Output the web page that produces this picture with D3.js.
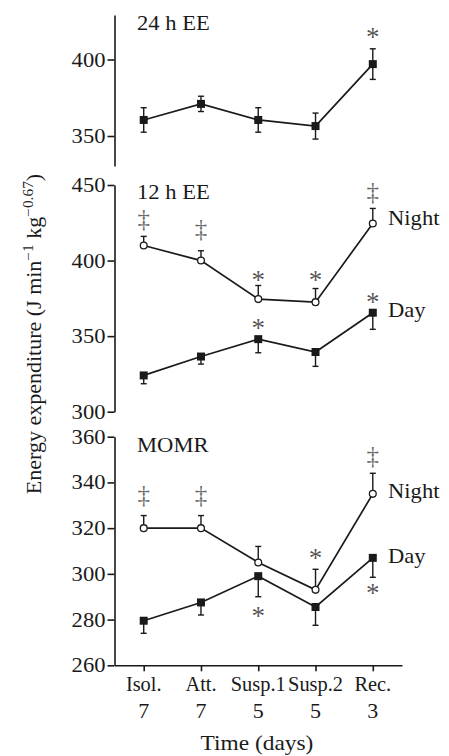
<!DOCTYPE html>
<html><head><meta charset="utf-8">
<script src="https://cdn.jsdelivr.net/npm/d3@7"></script>
<style>
body{margin:0;background:#fff}
text{font-family:"Liberation Serif","Times New Roman",serif;fill:#1a1a1a}
</style>
</head><body>
<svg id="c" width="449" height="756"></svg>
<script>
// ---------- data ----------
const categories = ["Isol.", "Att.", "Susp.1", "Susp.2", "Rec."];
const durations = ["7", "7", "5", "5", "3"];

const ee24Mean = [360.5, 371, 360.5, 356.5, 397];
const ee24Err  = [8, 5, 8, 8.5, 10];

const ee12NightMean = [410, 400, 374.5, 372.5, 424.5];
const ee12NightErr  = [6, 6.5, 9, 9, 10];
const ee12DayMean   = [324, 336.5, 348, 339.5, 365.5];
const ee12DayErr    = [5.5, 5, 9, 9.5, 11];

const momrNightMean = [320, 320, 305, 293, 335];
const momrNightErr  = [5.5, 5.5, 7, 9, 9];
const momrDayMean   = [279.5, 287.5, 299, 285.5, 307];
const momrDayErr    = [5.5, 5.5, 9, 8, 8.5];

const ticks24   = [350, 400];
const ticks12   = [300, 350, 400, 450];
const ticksMomr = [260, 280, 300, 320, 340, 360];

// significance marks: [category index, symbol, value at symbol centre]
const marks24        = [[4, "*", 417.3]];
const marks12Night   = [[0, "‡", 426.5], [1, "‡", 420], [2, "*", 389.8], [3, "*", 389.8], [4, "‡", 444.7]];
const marks12Day     = [[2, "*", 358], [4, "*", 375.5]];
const marksMomrNight = [[0, "‡", 333.8], [1, "‡", 333.8], [3, "*", 308.7], [4, "‡", 350.7]];
const marksMomrDay   = [[2, "*", 283.1], [4, "*", 293.4]];

// ---------- drawing ----------
const FONT = '"Liberation Serif","Times New Roman",serif';
const INK = "#1a1a1a";
const svg = d3.select("#c");
const SX = 1.13;
const axisX = 114.5, axisRight = 402;

const x = d3.scalePoint().domain(categories).range([axisX, axisRight]).padding(0.51);

function label(parent, px, py, str, size, anchor, sx) {
  const g = parent.append("g").attr("transform", `translate(${px},${py}) scale(${sx == null ? SX : sx},1)`);
  return g.append("text").attr("text-anchor", anchor || "start")
    .attr("font-family", FONT).attr("font-size", size).attr("fill", INK).text(str);
}

function panel(y, ticks, title, titleY, series, marks, sideLabels) {
  const g = svg.append("g");
  const ax = g.append("g").attr("transform", `translate(${axisX},0)`)
    .call(d3.axisLeft(y).tickValues(ticks).tickSize(7).tickSizeOuter(0).tickFormat(""));
  ax.selectAll("path,line").attr("stroke", INK).attr("stroke-width", 1.6);
  ticks.forEach(t => label(g, axisX - 9, y(t) + 7, String(t), 20, "end"));
  label(g, 137, titleY, title, 20, "start");

  series.forEach(s => {
    const line = d3.line().x((d, i) => x(categories[i])).y(d => y(d));
    g.append("path").datum(s.mean).attr("d", line).attr("fill", "none")
      .attr("stroke", INK).attr("stroke-width", 1.7);
    s.mean.forEach((m, i) => {
      const cx = x(categories[i]);
      const dirs = s.dir === "both" ? [1, -1] : [s.dir === "up" ? 1 : -1];
      dirs.forEach(dd => {
        const end = y(m + dd * s.err[i]);
        g.append("line").attr("x1", cx).attr("x2", cx).attr("y1", y(m)).attr("y2", end)
          .attr("stroke", INK).attr("stroke-width", 1.4);
        g.append("line").attr("x1", cx - 3).attr("x2", cx + 3).attr("y1", end).attr("y2", end)
          .attr("stroke", INK).attr("stroke-width", 1.4);
      });
    });
    s.mean.forEach((m, i) => {
      const cx = x(categories[i]);
      if (s.filled) {
        g.append("rect").attr("x", cx - 4).attr("y", y(m) - 4).attr("width", 8).attr("height", 8)
          .attr("fill", INK);
      } else {
        g.append("circle").attr("cx", cx).attr("cy", y(m)).attr("r", 3.4)
          .attr("fill", "#fff").attr("stroke", INK).attr("stroke-width", 1.3);
      }
    });
  });

  marks.forEach(([i, sym, v]) => {
    const cx = x(categories[i]);
    if (sym === "*") {
      label(g, cx, y(v) + 13, sym, 27, "middle", 1).attr("fill", "#000").attr("fill-opacity", 0.75);
    } else {
      label(g, cx, y(v) + 6.5, sym, 25, "middle", 1).attr("fill", "#000").attr("fill-opacity", 0.68);
    }
  });

  (sideLabels || []).forEach(([txt, py]) => label(g, 388, py, txt, 20, "start"));
  return g;
}

const y24 = d3.scaleLinear().domain([330.4, 429.1]).range([166, 15]);
const y12 = d3.scaleLinear().domain([300, 450]).range([411.7, 185]);
const yM  = d3.scaleLinear().domain([260, 360]).range([665.3, 436.7]);

panel(y24, ticks24, "24 h EE", 30,
  [{mean: ee24Mean, err: ee24Err, dir: "both", filled: true}], marks24);

panel(y12, ticks12, "12 h EE", 199,
  [{mean: ee12NightMean, err: ee12NightErr, dir: "up", filled: false},
   {mean: ee12DayMean, err: ee12DayErr, dir: "down", filled: true}],
  marks12Night.concat(marks12Day), [["Night", 225], ["Day", 317]]);

panel(yM, ticksMomr, "MOMR", 452,
  [{mean: momrNightMean, err: momrNightErr, dir: "up", filled: false},
   {mean: momrDayMean, err: momrDayErr, dir: "down", filled: true}],
  marksMomrNight.concat(marksMomrDay), [["Night", 498], ["Day", 563]]);

// x axis
const xa = svg.append("g").attr("transform", `translate(0,${yM.range()[0]})`)
  .call(d3.axisBottom(x).tickSize(6).tickSizeOuter(0).tickFormat(""));
xa.selectAll("path,line").attr("stroke", INK).attr("stroke-width", 1.6);
categories.forEach((c, i) => {
  label(svg, x(c), 691, c, 20, "middle", 1.02);
  label(svg, x(c), 718, durations[i], 20, "middle", 1.1);
});
label(svg, 257, 750, "Time (days)", 20, "middle", 1.17);

// y axis title
const yt = svg.append("g").attr("transform", `translate(41,334) rotate(-90) scale(1.1,1)`)
  .append("text").attr("text-anchor", "middle")
  .attr("font-family", FONT).attr("font-size", 20).attr("fill", INK);
yt.append("tspan").text("Energy expenditure (J min");
yt.append("tspan").attr("dy", -8).attr("font-size", 14).text("−1");
yt.append("tspan").attr("dy", 8).text(" kg");
yt.append("tspan").attr("dy", -8).attr("font-size", 14).text("−0.67");
yt.append("tspan").attr("dy", 8).text(")");
</script>
</body></html>
